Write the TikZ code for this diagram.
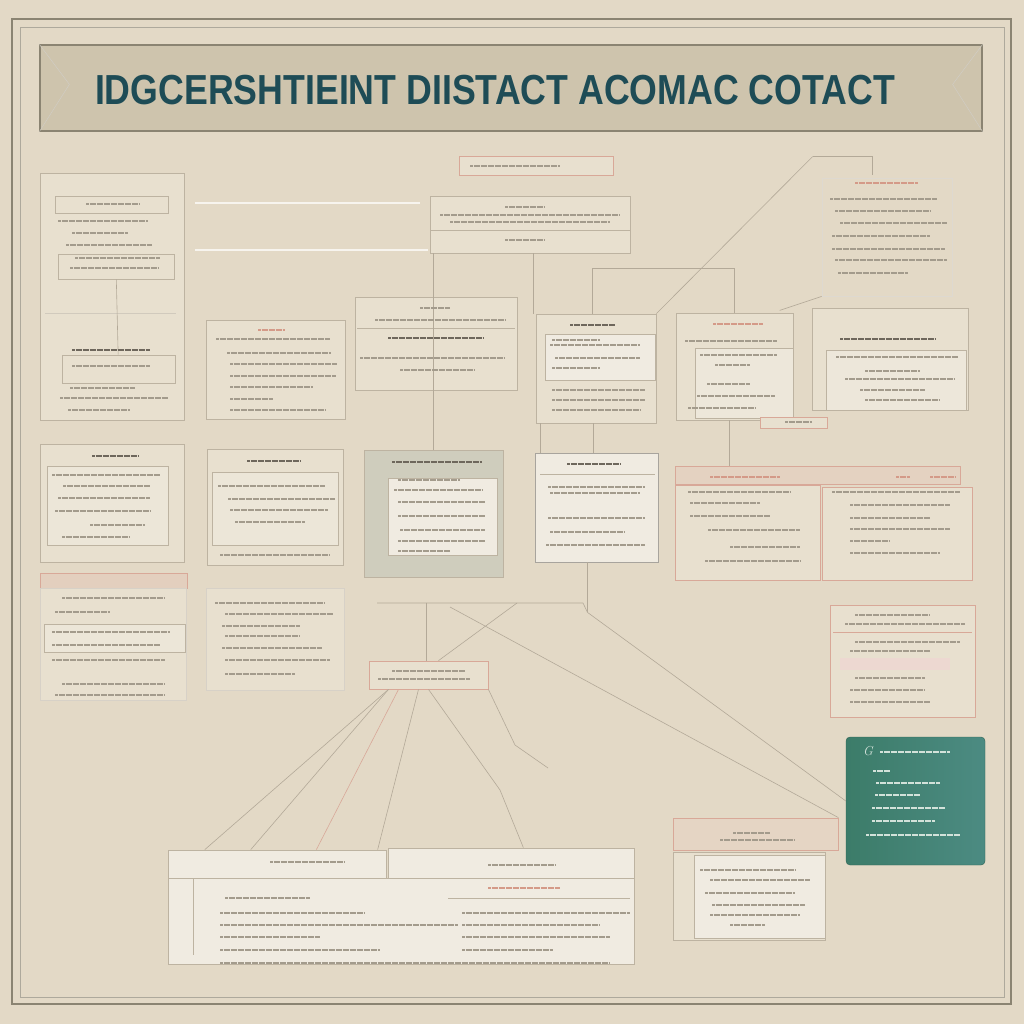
\documentclass[tikz,border=0pt]{standalone}
\usepackage{fontspec}
\newfontfamily\titlefont{Liberation Sans}
\usetikzlibrary{calc}

\definecolor{paper}{HTML}{E3D9C6}
\definecolor{cardfill}{HTML}{E8E0CF}
\definecolor{frame}{HTML}{8B8472}
\definecolor{banner}{HTML}{CEC4AD}
\definecolor{titleink}{HTML}{1E4C56}
\definecolor{edge}{HTML}{BDB3A1}
\definecolor{pinkedge}{HTML}{D8A898}
\definecolor{ink}{HTML}{A39B8C}
\definecolor{darkink}{HTML}{6E675C}
\definecolor{pinkink}{HTML}{D49A88}
\definecolor{wirecol}{HTML}{B3A998}
\definecolor{sage}{HTML}{CFCDBD}
\definecolor{whitecard}{HTML}{F0EBE1}
\definecolor{tealleft}{HTML}{3C7C69}
\definecolor{tealright}{HTML}{4C8B82}
\definecolor{tealink}{HTML}{D3E2DA}

\tikzset{
  card/.style={draw=edge, fill=cardfill, line width=0.8pt, inner sep=0pt},
  pcard/.style={card, draw=pinkedge},
  txt/.style={ink, line width=1.3pt, dash pattern=on 3pt off 0.5pt},
  dtxt/.style={darkink, line width=1.8pt, dash pattern=on 3pt off 0.5pt},
  ptxt/.style={pinkink, line width=1.5pt, dash pattern=on 3pt off 0.5pt},
  ltxt/.style={tealink, line width=1.2pt, dash pattern=on 3pt off 0.5pt},
  wire/.style={draw=wirecol, line width=0.6pt},
}

% panel from corner (x1,y1) to corner (x2,y2)
\newcommand\pnl[6][card]{\node[#1, minimum width=#5-#3, minimum height=#6-#4] (#2) at ({(#3+#5)/2},{(#4+#6)/2}) {};}

\begin{document}
\begin{tikzpicture}[x=1pt,y=-1pt]
  \fill[paper] (0,0) rectangle (1024,1024);
  \useasboundingbox (0,0) rectangle (1024,1024);
  \draw[frame, line width=2pt] (12,19) rectangle (1011,1004);
  \draw[frame!70, line width=0.6pt] (20,27) rectangle (1004,997);

  % banner
  \pnl[card, fill=banner, draw=frame, line width=1.2pt]{banner}{40}{45}{982}{131}
  \draw[frame!40] (banner.north west) -- ++(30,40) -- (banner.south west);
  \draw[frame!40] (banner.north east) -- ++(-30,40) -- (banner.south east);
  \node[font=\titlefont\bfseries\fontsize{42}{42}\selectfont, text=titleink, xscale=0.85] (title) at (495,90) {IDGCERSHTIEINT DIISTACT ACOMAC COTACT};

  % faint rules left of top box
  \draw[white!70!paper, line width=1.5pt] (195,203) -- (420,203);
  \draw[white!70!paper, line width=1.5pt] (195,250) -- (428,250);

  % panels
  \pnl{lefttop}{40}{173}{184}{420}
  \pnl{lefttopA}{55}{196}{168}{213}
  \pnl{lefttopB}{58}{254}{174}{279}
  \pnl{lefttopC}{62}{355}{175}{383}
  \draw[edge!70] (45,313) -- (176,313);
  \pnl{method}{206}{320}{345}{419}
  \pnl[pcard]{toplabel}{459}{156}{613}{175}
  \pnl{topbox}{430}{196}{630}{253}
  \draw[edge] (430,230) -- (630,230);
  \pnl{centre}{355}{297}{517}{390}
  \draw[edge] (357,328) -- (515,328);
  \pnl{evalbox}{536}{314}{656}{423}
  \pnl[card, fill=whitecard]{evalin}{545}{334}{655}{380}
  \pnl{featbox}{676}{313}{793}{420}
  \pnl[card, fill=whitecard!60!cardfill]{featin}{695}{348}{793}{418}
  \pnl{rightbox}{812}{308}{968}{410}
  \pnl[card, fill=whitecard!60!cardfill]{rightin}{826}{350}{966}{410}
  \pnl[card, draw=edge!50, fill=paper]{notes}{822}{178}{952}{296}
  \pnl[pcard]{smalltag}{760}{417}{827}{428}

  \pnl{rowtwoA}{40}{444}{184}{562}
  \pnl[card, fill=whitecard!50!cardfill]{rowtwoAin}{47}{466}{168}{545}
  \pnl{rowtwoB}{207}{449}{343}{565}
  \pnl[card, fill=whitecard!50!cardfill]{rowtwoBin}{212}{472}{338}{545}
  \pnl[card, fill=sage]{sagebox}{364}{450}{503}{577}
  \pnl[card, fill=whitecard]{sagein}{388}{478}{497}{555}
  \pnl[card, fill=whitecard, draw=darkink!60]{whitebox}{535}{453}{658}{562}
  \pnl[pcard, fill=pinkedge!25!cardfill]{widehead}{675}{466}{960}{484}
  \pnl[pcard]{wideleft}{675}{485}{820}{580}
  \pnl[pcard]{wideright}{822}{487}{972}{580}

  \pnl[pcard, fill=pinkedge!30!cardfill]{rowthreehead}{40}{573}{187}{588}
  \pnl[card, draw=edge!60]{rowthreeA}{40}{588}{186}{700}
  \pnl[card, fill=whitecard!50!cardfill]{rowthreeAin}{44}{624}{185}{652}
  \pnl[card, draw=edge!60]{rowthreeB}{206}{588}{344}{690}
  \pnl[pcard]{hub}{369}{661}{488}{689}
  \pnl[pcard]{pinkbox}{830}{605}{975}{717}
  \draw[pinkedge] (833,632) -- (972,632);
  \fill[pinkedge!45] (840,658) rectangle (950,670);

  \node[rounded corners=4pt, left color=tealleft, right color=tealright, draw=tealleft!80!black, minimum width=139, minimum height=128, inner sep=0pt] (tealbox) at (915.5,801) {};

  \pnl[card, fill=whitecard]{bottomL}{168}{850}{386}{880}
  \pnl[card, fill=whitecard]{bottomR}{388}{848}{634}{880}
  \pnl[card, fill=whitecard]{bottom}{168}{878}{634}{964}
  \draw[edge] (193,878) -- (193,955);
  \pnl[pcard, fill=pinkedge!20!cardfill]{bottomtag}{673}{818}{838}{850}
  \pnl[card]{bottomsmall}{673}{852}{825}{940}
  \pnl[card, fill=whitecard]{bottomsmallin}{694}{855}{825}{938}

  % connectors
  \draw[wire] (lefttopB) -- (lefttopC);
  \draw[wire] (topbox.south west) ++(4,0) coordinate (cdrop) -- (cdrop |- sagebox.north);
  \draw[wire] (topbox.south) ++(3,0) coordinate (cdropb) -- (cdropb |- evalbox.north);
  \draw[wire] (evalbox.north) ++(-4,-45) coordinate (brl) -- (brl |- evalbox.north);
  \draw[wire] (brl) -- (brl -| featbox.north) -- (featbox.north);
  \draw[wire] (notes.north west) ++(-9,-21) coordinate (nb) -- ++(60,0) -- ++(0,18);
  \draw[wire] (nb) -- (evalbox.north east);
  \draw[wire] (notes.south west) -- ++(-42,14);
  \draw[wire] (evalbox.south west) ++(5,0) coordinate (ea) -- (ea |- whitebox.north);
  \draw[wire] (evalbox.south) ++(-3,0) coordinate (eb) -- (eb |- whitebox.north);
  \draw[wire] (featbox.south) ++(-5,0) coordinate (fa) -- (fa |- widehead.north);
  \draw[wire] (whitebox.south) ++(-9,0) coordinate (wa) -- ++(0,50) coordinate (wb);
  \draw[wire] (377,603) coordinate (ja) -- (583,603) coordinate (jb) -- (wb);
  \draw[wire] (hub.north) ++(-2,-58) coordinate (hc) -- (hc |- hub.north);
  \draw[wire] (jb) ++(-66,0) coordinate (jx) -- ($(hub.north)+(10,0)$);
  \draw[wire] (wb) -- (tealbox.west);
  \draw[wire] (ja) ++(73,4) coordinate (jy) -- (bottomtag.north east);
  % fan to bottom table
  \draw[wire] (hub.south) ++(-40,0) coordinate (fa1) -- ($(bottomL.north west)!0.17!(bottomL.north east)$);
  \draw[wire] (fa1) -- ($(bottomL.north west)!0.38!(bottomL.north east)$);
  \draw[wire, pinkedge] (hub.south) ++(-30,0) coordinate (fa2) -- ($(bottomL.north west)!0.68!(bottomL.north east)$);
  \draw[wire] (hub.south) ++(-10,0) coordinate (fa3) -- ($(bottomL.north west)!0.96!(bottomL.north east)$);
  \draw[wire] (hub.south) -- (500,790) -- ($(bottomR.north west)!0.55!(bottomR.north east)$);
  \draw[wire] (hub.south east) -- (515,745) -- (548,768);

  % placeholder text: top left
  \foreach \a/\b/\y in {86/140/204}
    \draw[txt] (\a,\y) -- (\b,\y);
  \foreach \a/\b/\y in {58/148/221, 72/128/233, 66/152/245, 75/160/258, 70/158/268, 72/150/366, 70/135/388, 60/168/398, 68/130/410}
    \draw[txt] (\a,\y) -- (\b,\y);
  \draw[dtxt] (72,350) -- (150,350);
  % method panel
  \draw[ptxt] (258,330) -- (285,330);
  \foreach \a/\b/\y in {216/330/339, 227/331/353, 230/337/364, 230/336/376, 230/313/387, 230/273/399, 230/326/410}
    \draw[txt] (\a,\y) -- (\b,\y);
  % top label and box
  \draw[txt] (470,166) -- (560,166);
  \foreach \a/\b/\y in {505/545/207, 440/620/215, 450/610/222, 505/545/240}
    \draw[txt] (\a,\y) -- (\b,\y);
  % centre
  \foreach \a/\b/\y in {420/450/308, 375/505/320, 360/505/358, 400/475/370}
    \draw[txt] (\a,\y) -- (\b,\y);
  \draw[dtxt] (388,338) -- (483,338);
  % eval
  \draw[dtxt] (570,325) -- (615,325);
  \foreach \a/\b/\y in {552/600/340, 550/640/345, 555/640/358, 552/600/368, 552/645/390, 552/645/400, 552/640/410}
    \draw[txt] (\a,\y) -- (\b,\y);
  % features
  \draw[ptxt] (713,324) -- (763,324);
  \foreach \a/\b/\y in {685/777/341, 700/777/355, 715/750/365, 707/750/384, 697/775/396, 688/755/408}
    \draw[txt] (\a,\y) -- (\b,\y);
  % right box
  \draw[dtxt] (840,339) -- (935,339);
  \foreach \a/\b/\y in {836/958/357, 865/920/371, 845/955/379, 860/925/390, 865/940/400}
    \draw[txt] (\a,\y) -- (\b,\y);
  % notes
  \draw[ptxt] (855,183) -- (918,183);
  \foreach \a/\b/\y in {830/937/199, 835/930/211, 840/947/223, 832/930/236, 832/945/249, 835/947/260, 838/908/273}
    \draw[txt] (\a,\y) -- (\b,\y);
  \draw[txt] (785,422) -- (812,422);
  % row two
  \draw[dtxt] (92,456) -- (138,456);
  \foreach \a/\b/\y in {52/160/475, 63/150/486, 58/150/498, 55/150/511, 90/145/525, 62/130/537}
    \draw[txt] (\a,\y) -- (\b,\y);
  \draw[dtxt] (247,461) -- (300,461);
  \foreach \a/\b/\y in {218/325/486, 228/335/499, 230/328/510, 235/305/522, 220/330/555}
    \draw[txt] (\a,\y) -- (\b,\y);
  \draw[dtxt] (392,462) -- (482,462);
  \foreach \a/\b/\y in {398/460/480, 394/482/490, 398/485/502, 398/485/516, 400/485/530, 398/485/541, 398/450/551}
    \draw[txt] (\a,\y) -- (\b,\y);
  \draw[dtxt] (567,464) -- (620,464);
  \draw[edge] (540,474) -- (655,474);
  \foreach \a/\b/\y in {548/645/487, 550/640/493, 548/645/518, 550/625/532, 546/645/545}
    \draw[txt] (\a,\y) -- (\b,\y);
  \draw[ptxt] (710,477) -- (780,477);
  \draw[ptxt] (896,477) -- (910,477);
  \draw[ptxt] (930,477) -- (955,477);
  \foreach \a/\b/\y in {688/790/492, 690/760/503, 690/770/516, 708/800/530, 730/800/547, 705/800/561, 832/960/492, 850/950/505, 850/930/518, 850/950/529, 850/890/541, 850/940/553}
    \draw[txt] (\a,\y) -- (\b,\y);
  % row three
  \foreach \a/\b/\y in {62/165/598, 55/110/612, 52/170/632, 52/160/645, 52/165/660, 62/165/684, 55/165/695}
    \draw[txt] (\a,\y) -- (\b,\y);
  \foreach \a/\b/\y in {215/325/603, 225/333/614, 222/300/626, 225/300/636, 222/322/648, 225/330/660, 225/295/674}
    \draw[txt] (\a,\y) -- (\b,\y);
  \foreach \a/\b/\y in {392/465/671, 378/470/679}
    \draw[txt] (\a,\y) -- (\b,\y);
  \foreach \a/\b/\y in {855/930/615, 845/965/624, 855/960/642, 850/930/651, 855/925/678, 850/925/690, 850/930/702}
    \draw[txt] (\a,\y) -- (\b,\y);
  % teal
  \node[font=\itshape\fontsize{13}{13}\selectfont, text=tealink, inner sep=0pt] (tealhead) at (868,751) {G};
  \draw[ltxt] (880,752) -- (950,752);
  \foreach \a/\b/\y in {873/890/771, 876/940/783, 875/920/795, 872/945/808, 872/935/821, 866/960/835}
    \draw[ltxt] (\a,\y) -- (\b,\y);
  % bottom
  \foreach \a/\b/\y in {270/345/862, 488/555/865, 225/310/898, 220/365/913, 220/458/925, 220/320/937, 220/380/950, 220/610/963, 462/630/913, 462/600/925, 462/610/937, 462/553/950}
    \draw[txt] (\a,\y) -- (\b,\y);
  \draw[ptxt] (488,888) -- (560,888);
  \draw[edge] (448,898) -- (630,898);
  \foreach \a/\b/\y in {733/770/833, 720/795/840, 700/795/870, 710/810/880, 705/795/893, 712/805/905, 710/800/915, 730/765/925}
    \draw[txt] (\a,\y) -- (\b,\y);
\end{tikzpicture}
\end{document}
